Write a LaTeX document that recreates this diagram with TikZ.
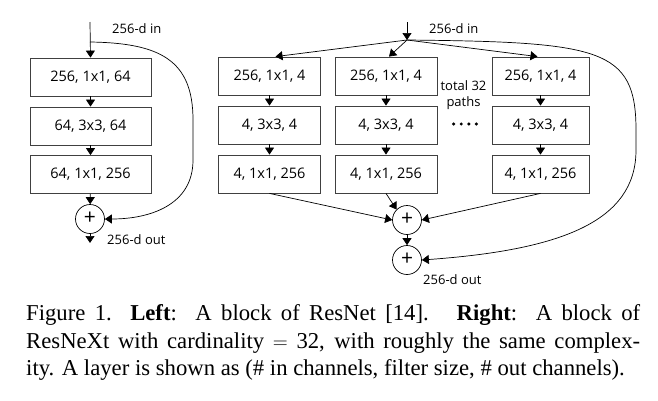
\documentclass[tikz,border=0pt]{standalone}
\usepackage{fontspec}
\setmainfont{Liberation Serif}
\newfontfamily\diag{Open Sans}
\usetikzlibrary{arrows.meta}
\begin{document}
\begin{tikzpicture}[x=1pt,y=-1pt,
  lay/.style={draw=black!75,line width=0.8pt,minimum height=38pt,inner sep=0pt,font=\diag\fontsize{14.5}{16}\selectfont},
  lbox/.style={lay,minimum width=121pt},
  rbox/.style={lay,minimum width=102pt},
  sum/.style={circle,draw,line width=0.7pt,minimum size=29pt,inner sep=0pt,font=\diag\fontsize{21}{22}\selectfont},
  con/.style={line width=0.7pt,-{Triangle[length=7pt,width=9pt]}},
  lab/.style={font=\diag\fontsize{13}{15}\selectfont,inner sep=0pt,anchor=west},
  captext/.style={font=\fontsize{22.7}{27}\selectfont,inner sep=0pt,anchor=base west}]
\useasboundingbox (0,0) rectangle (658,400);
% left block
\coordinate (lin) at (90,22);
\coordinate (lsplit) at (90,42);
\node[lbox] (l1) at (90.5,77) {256, 1x1, 64};
\node[lbox] (l2) at (90.5,126) {64, 3x3, 64};
\node[lbox] (l3) at (90.5,174.5) {64, 1x1, 256};
\node[sum] (ls) at (90,219) {\raisebox{1pt}{+}};
\coordinate (lout) at (90,243);
\node[lab] (lint) at (112,29) {256-d in};
\node[lab] (loutt) at (107,240) {256-d out};
\draw[con] (lin) -- (l1.north);
\draw[con] (l1) -- (l2);
\draw[con] (l2) -- (l3);
\draw[con] (l3) -- (ls);
\draw[con] (ls) -- (lout);
\draw[con] (lsplit) .. controls (160,43) and (193,60) .. (193,120) -- (193,160) .. controls (193,205) and (150,219) .. (ls.east);
% right block
\coordinate (rin) at (407,22);
\coordinate (rsplit) at (407,40);
\node[rbox] (a1) at (269.5,76) {256, 1x1, 4};
\node[rbox] (a2) at (269.5,125) {4, 3x3, 4};
\node[rbox] (a3) at (269.5,174) {4, 1x1, 256};
\node[rbox] (b1) at (386,76) {256, 1x1, 4};
\node[rbox] (b2) at (386,125) {4, 3x3, 4};
\node[rbox] (b3) at (386,174) {4, 1x1, 256};
\node[rbox,minimum width=97pt] (c1) at (540.5,76) {256, 1x1, 4};
\node[rbox,minimum width=97pt] (c2) at (540.5,125) {4, 3x3, 4};
\node[rbox,minimum width=97pt] (c3) at (540.5,174) {4, 1x1, 256};
\node[sum] (s1) at (407,220) {\raisebox{1pt}{+}};
\node[sum] (s2) at (407,260) {\raisebox{1pt}{+}};
\node[lab] (rint) at (429,29) {256-d in};
\node[lab] (routt) at (423,280) {256-d out};
\node[font=\diag\fontsize{13}{16}\selectfont,align=center,inner sep=0pt] (tot) at (463.5,95) {total 32\\paths};
\node[inner sep=0pt] (dots) at (465,124) {\foreach \i in {0,1,2,3}{\tikz\fill (0,0) circle (1.7pt);\hspace{4.2pt}}};
\draw[con] (rin) -- (rsplit);
\draw[con] (rsplit) -- ([xshift=6pt]a1.north);
\draw[con] (rsplit) -- ([xshift=3pt]b1.north);
\draw[con] (rsplit) -- ([xshift=-3pt]c1.north);
\draw[con] (a1) -- (a2);
\draw[con] (a2) -- (a3);
\draw[con] (b1) -- (b2);
\draw[con] (b2) -- (b3);
\draw[con] (c1) -- (c2);
\draw[con] (c2) -- (c3);
\draw[con] (a3.south) -- (s1.west);
\draw[con] (b3.south) -- (s1.north west);
\draw[con] (c3.south) -- (s1.east);
\draw[con] (s1) -- (s2);
\draw[con] (rsplit) .. controls (600,42) and (636,48) .. (636,130) -- (636,150) .. controls (636,222) and (560,250) .. (s2.east);
% caption
\node[captext] (cap1) at (26,320) {\makebox[614pt][s]{Figure 1. \textbf{Left}:\ \ A block of ResNet [14].\ \ \ \textbf{Right}:\ \ A block of}};
\node[captext] (cap2) at (26,348) {\makebox[614pt][s]{ResNeXt with cardinality $=$ 32, with roughly the same complex-}};
\node[captext] (cap3) at (26,375.5) {ity. A layer is shown as (\# in channels, filter size, \# out channels).};
\end{tikzpicture}
\end{document}
